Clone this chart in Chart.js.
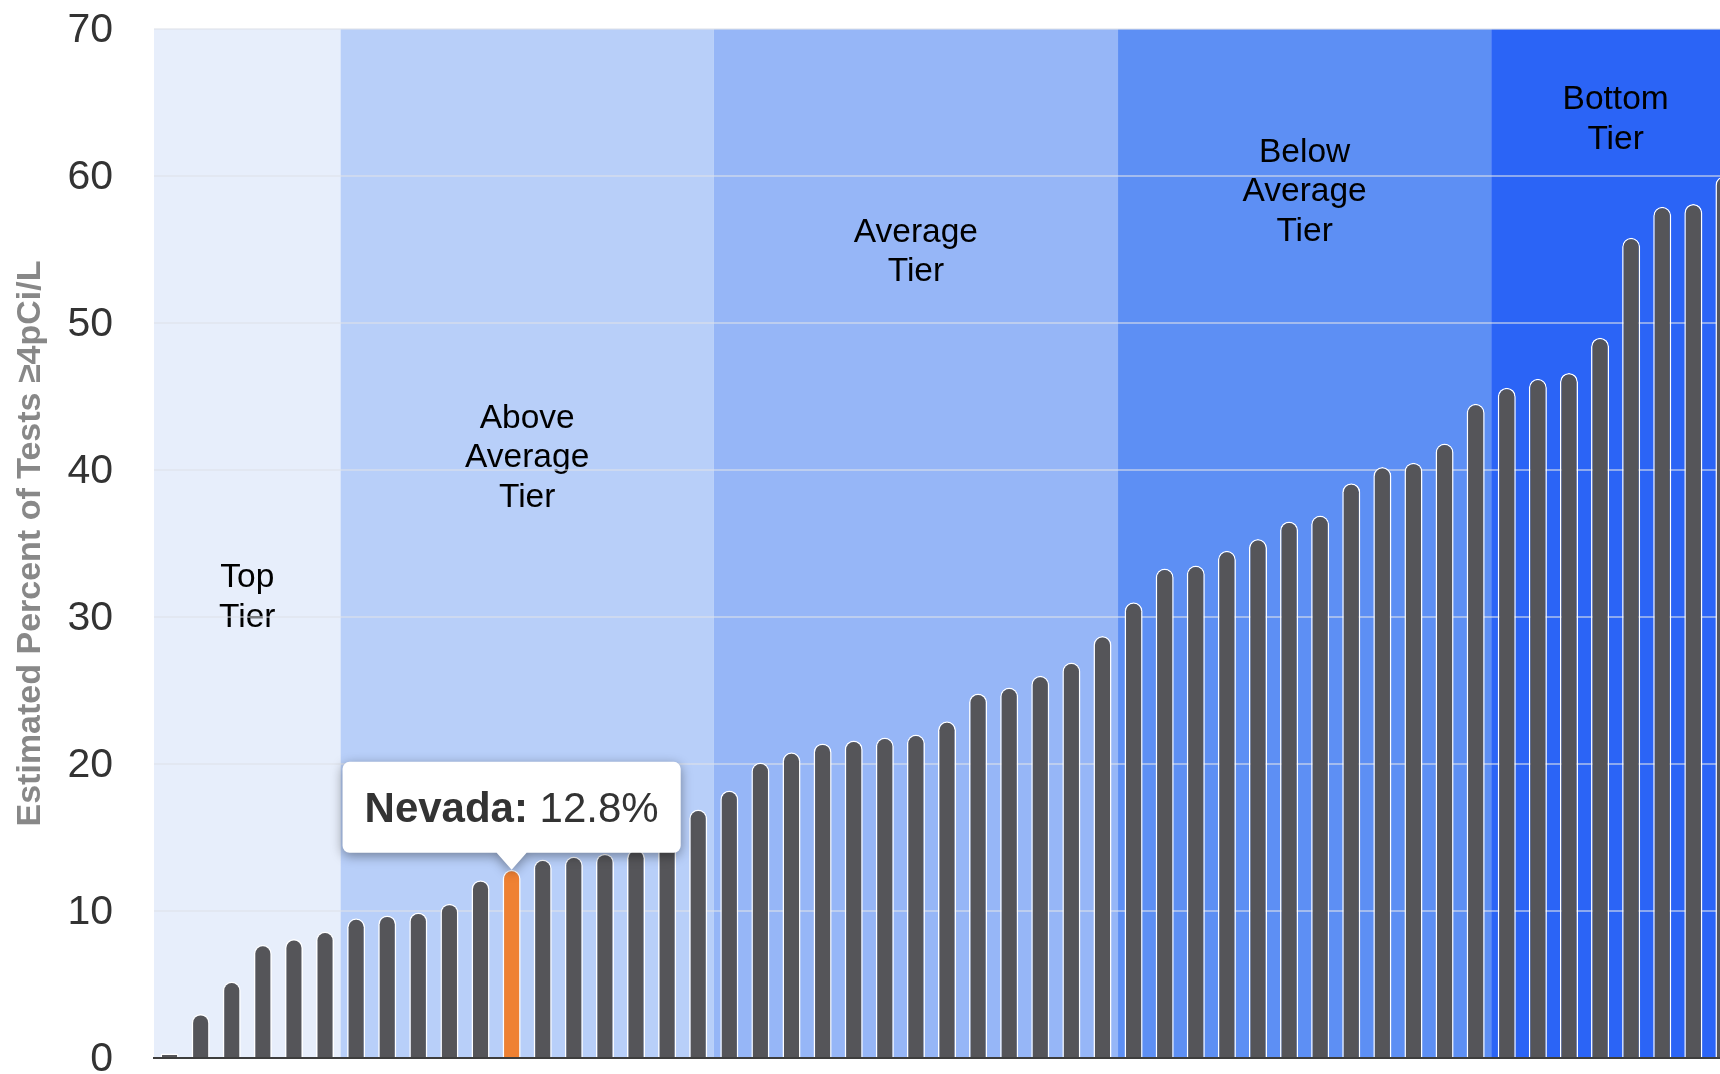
<!DOCTYPE html>
<html>
<head>
<meta charset="utf-8">
<script src="https://cdn.jsdelivr.net/npm/chart.js@4.4.0/dist/chart.umd.min.js"></script>
<style>
  html, body { margin: 0; padding: 0; overflow: hidden; background: #fff; }
  #myChart { display: block; }
</style>
</head>
<body>
<canvas id="myChart" width="1760" height="1100"></canvas>
<script>
// states sorted from lowest to highest share of tests at or above 4 pCi/L
const stateNames = [
  "Hawaii", "Louisiana", "Florida", "Mississippi", "Arkansas", "Texas",
  "Alaska", "Delaware", "Alabama", "California", "South Carolina", "Nevada",
  "Oregon", "Arizona", "Georgia", "New Jersey", "North Carolina", "Oklahoma",
  "Washington", "New York", "Maryland", "New Mexico", "Tennessee", "District of Columbia",
  "Vermont", "Virginia", "Kentucky", "West Virginia", "Rhode Island", "Missouri",
  "Connecticut", "New Hampshire", "Michigan", "Massachusetts", "Utah", "Indiana",
  "Maine", "Idaho", "Kansas", "Illinois", "Wisconsin", "Wyoming",
  "Ohio", "Colorado", "Nebraska", "Minnesota", "Montana", "Pennsylvania",
  "North Dakota", "Iowa", "South Dakota"
];
const radonPct = [
  0.3, 3.0, 5.2, 7.7, 8.1, 8.6,
  9.5, 9.7, 9.9, 10.5, 12.1, 12.8,
  13.5, 13.7, 13.9, 14.2, 14.7, 16.9,
  18.2, 20.1, 20.8, 21.4, 21.6, 21.8,
  22.0, 22.9, 24.8, 25.2, 26.0, 26.9,
  28.7, 31.0, 33.3, 33.5, 34.5, 35.3,
  36.5, 36.9, 39.1, 40.2, 40.5, 41.8,
  44.5, 45.6, 46.2, 46.6, 49.0, 55.8,
  57.9, 58.1, 60.0
];
const highlightState = "Nevada";

// tiers: first category index of each tier, its label lines, label height (in %)
const tierStarts = [0, 6, 18, 31, 43];
const tierNames = [
  ["Top", "Tier"],
  ["Above", "Average", "Tier"],
  ["Average", "Tier"],
  ["Below", "Average", "Tier"],
  ["Bottom", "Tier"]
];
const tierLabelAt = [31.5, 41.0, 55.0, 59.1, 64.0];
const tierColors = ["#e7eefb", "#b8cff9", "#96b6f7", "#5d8ff4", "#2b64f6"];

const yTicks = [0, 10, 20, 30, 40, 50, 60, 70];

const FONT = '"Liberation Sans", Arial, Helvetica, sans-serif';

const tierBands = {
  id: 'tierBands',
  beforeDraw(chart) {
    const { ctx, chartArea, scales } = chart;
    const x = scales.x, y = scales.y;
    const n = stateNames.length;
    ctx.save();
    for (let i = 0; i < tierStarts.length; i++) {
      const start = tierStarts[i];
      const end = i + 1 < tierStarts.length ? tierStarts[i + 1] : n;
      const x0 = x.getPixelForValue(start - 0.5);
      const x1 = x.getPixelForValue(end - 0.5);
      ctx.fillStyle = tierColors[i];
      ctx.fillRect(x0, chartArea.top, x1 - x0, chartArea.bottom - chartArea.top);

      // label block, centred in the band
      const lines = tierNames[i];
      const size = 33.5, lh = 39.5;
      const cy = y.getPixelForValue(tierLabelAt[i]);
      const firstMid = cy - (lines.length - 1) * lh / 2;
      ctx.font = size + 'px ' + FONT;
      ctx.fillStyle = '#000';
      ctx.textAlign = 'center';
      ctx.textBaseline = 'alphabetic';
      lines.forEach((t, k) => {
        ctx.fillText(t, (x0 + x1) / 2, firstMid + k * lh + size * 0.716 / 2);
      });
    }
    ctx.restore();
  }
};

const callout = {
  id: 'callout',
  afterDatasetsDraw(chart) {
    const idx = stateNames.indexOf(highlightState);
    if (idx < 0) return;
    const bar = chart.getDatasetMeta(0).data[idx];
    const ctx = chart.ctx;
    const size = 42;
    const boldFont = 'bold ' + size + 'px ' + FONT;
    const normFont = size + 'px ' + FONT;
    const name = stateNames[idx] + ':';
    const val = ' ' + radonPct[idx].toFixed(1) + '%';

    ctx.save();
    ctx.font = boldFont;
    const w1 = ctx.measureText(name).width;
    ctx.font = normFont;
    const w2 = ctx.measureText(val).width;

    const padX = 22, boxH = 91, caretH = 17, caretW = 15, r = 7;
    const boxW = w1 + w2 + padX * 2;
    const tipX = bar.x, tipY = bar.y;
    const bottom = tipY - caretH, top = bottom - boxH;
    const left = tipX - boxW / 2, right = left + boxW;

    ctx.beginPath();
    ctx.moveTo(left + r, top);
    ctx.lineTo(right - r, top);
    ctx.arcTo(right, top, right, top + r, r);
    ctx.lineTo(right, bottom - r);
    ctx.arcTo(right, bottom, right - r, bottom, r);
    ctx.lineTo(tipX + caretW, bottom);
    ctx.lineTo(tipX, tipY);
    ctx.lineTo(tipX - caretW, bottom);
    ctx.lineTo(left + r, bottom);
    ctx.arcTo(left, bottom, left, bottom - r, r);
    ctx.lineTo(left, top + r);
    ctx.arcTo(left, top, left + r, top, r);
    ctx.closePath();
    ctx.shadowColor = 'rgba(0,0,0,0.4)';
    ctx.shadowBlur = 12;
    ctx.shadowOffsetY = 3;
    ctx.fillStyle = '#fff';
    ctx.fill();
    ctx.shadowColor = 'transparent';

    const by = (top + bottom) / 2 + size * 0.716 / 2;
    ctx.fillStyle = '#333';
    ctx.textAlign = 'left';
    ctx.textBaseline = 'alphabetic';
    ctx.font = boldFont;
    ctx.fillText(name, left + padX, by);
    ctx.font = normFont;
    ctx.fillText(val, left + padX + w1, by);
    ctx.restore();
  }
};

const ctx = document.getElementById('myChart');
new Chart(ctx, {
  type: 'bar',
  data: {
    labels: stateNames,
    datasets: [{
      data: radonPct,
      backgroundColor: stateNames.map(n => n === highlightState ? '#ef8133' : '#555559'),
      borderColor: '#ffffff',
      borderWidth: 1.5,
      borderSkipped: 'start',
      borderRadius: 9,
      barPercentage: 0.58,
      categoryPercentage: 1
    }]
  },
  options: {
    responsive: false,
    animation: false,
    devicePixelRatio: 1,
    events: [],
    layout: { padding: { top: 29, right: 20, bottom: 42, left: 0 } },
    plugins: {
      legend: { display: false },
      tooltip: { enabled: false }
    },
    scales: {
      x: {
        afterFit: s => { s.height = 0; s.paddingLeft = 0; s.paddingRight = 0; },
        grid: { display: false, drawTicks: false, tickLength: 0 },
        border: { display: true, color: '#3d3d3d', width: 2 },
        ticks: { display: false }
      },
      y: {
        min: 0,
        max: 70,
        afterBuildTicks: s => { s.ticks = yTicks.map(v => ({ value: v })); },
        afterFit: s => { s.width = 154; s.paddingTop = 0; s.paddingBottom = 0; },
        ticks: {
          color: '#333',
          padding: 41,
          // empty first line nudges the number a couple of pixels down
          callback: v => ['', String(v)],
          font: { family: FONT, size: 41, lineHeight: '4px' }
        },
        grid: {
          color: c => c.tick && c.tick.value === 0 ? 'rgba(0,0,0,0)' : 'rgba(222,226,234,0.55)',
          lineWidth: 2,
          drawTicks: false,
          tickLength: 0
        },
        border: { display: false },
        title: {
          display: true,
          text: 'Estimated Percent of Tests ≥4pCi/L',
          color: '#888',
          font: { family: FONT, size: 34, weight: 'bold' },
          padding: { top: 10, bottom: 0 }
        }
      }
    }
  },
  plugins: [tierBands, callout]
});
</script>
</body>
</html>
